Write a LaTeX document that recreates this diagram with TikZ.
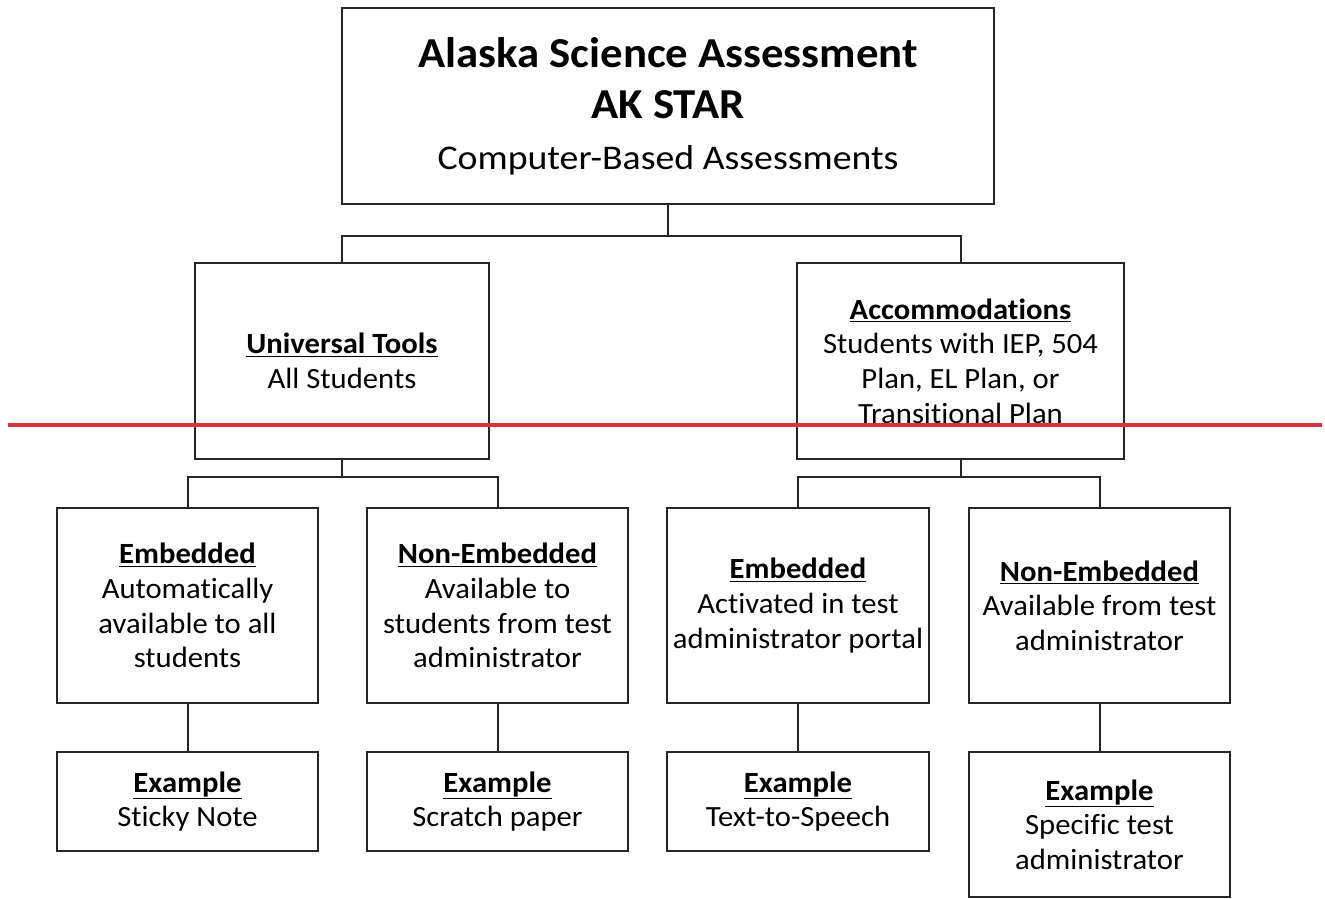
\documentclass[tikz,border=0pt]{standalone}
\usepackage{fontspec}
\setmainfont{Carlito}[FakeStretch=1.045, Ligatures=NoCommon]
\newfontfamily\titlefont{Carlito}[FakeStretch=1.05, Ligatures=NoCommon]
\newfontfamily\subfont{Carlito}[FakeStretch=1.09, Ligatures=NoCommon]
\definecolor{redline}{RGB}{212,52,60}
\tikzset{
  box/.style={draw=black!85, line width=1.3pt, align=center, inner sep=0pt,
    font=\fontsize{22}{26}\selectfont},
  conn/.style={draw=black!85, line width=1.5pt},
  ttl/.style={inner sep=0pt, font=\titlefont\fontsize{32}{36}\selectfont\bfseries},
  sub/.style={inner sep=0pt, font=\subfont\fontsize{26}{30}\selectfont},
}
\newcommand{\hd}[1]{\underline{\textbf{#1}}}
\begin{document}
\begin{tikzpicture}[x=0.75pt,y=-0.75pt]
\useasboundingbox (0,0) rectangle (1325,899);
% level 1
\node[box, minimum width=489pt, minimum height=147pt] (top) at (668,106) {};
\node[ttl] (t1) at (668,53) {Alaska Science Assessment};
\node[ttl] (t2) at (668,105) {AK STAR};
\node[sub] (t3) at (668,160) {Computer-Based Assessments};
% level 2
\node[box, minimum width=220.5pt, minimum height=147pt] (ut) at (342,361)
  {\hd{Universal Tools}\\All Students};
\node[box, minimum width=245.25pt, minimum height=147pt] (acc) at (960.5,361)
  {\hd{Accommodations}\\Students with IEP, 504\\Plan, EL Plan, or\\Transitional Plan};
% level 3
\node[box, minimum width=195.75pt, minimum height=146.25pt] (e1) at (187.5,605.5)
  {\hd{Embedded}\\Automatically\\available to all\\students};
\node[box, minimum width=195.75pt, minimum height=146.25pt] (n1) at (497.5,605.5)
  {\hd{Non-Embedded}\\Available to\\students from test\\administrator};
\node[box, minimum width=196.5pt, minimum height=146.25pt] (e2) at (798,605.5)
  {\hd{Embedded}\\Activated in test\\administrator portal};
\node[box, minimum width=195.75pt, minimum height=146.25pt] (n2) at (1099.5,605.5)
  {\hd{Non-Embedded}\\Available from test\\administrator};
% level 4
\node[box, minimum width=195.75pt, minimum height=74.25pt] (x1) at (187.5,801.5)
  {\hd{Example}\\Sticky Note};
\node[box, minimum width=195.75pt, minimum height=74.25pt] (x2) at (497.5,801.5)
  {\hd{Example}\\Scratch paper};
\node[box, minimum width=196.5pt, minimum height=74.25pt] (x3) at (798,801.5)
  {\hd{Example}\\Text-to-Speech};
\node[box, minimum width=195.75pt, minimum height=108.75pt] (x4) at (1099.5,824.5)
  {\hd{Example}\\Specific test\\administrator};
% connectors
\coordinate (j1) at (668,236);
\coordinate (j2) at (342,477);
\coordinate (j3) at (961,477);
\draw[conn] (top.south) -- (top.south |- j1);
\draw[conn] (ut.north) -- (ut.north |- j1) -- (acc.north |- j1) -- (acc.north);
\draw[conn] (ut.south) -- (ut.south |- j2);
\draw[conn] (e1.north) -- (e1.north |- j2) -- (n1.north |- j2) -- (n1.north);
\draw[conn] (acc.south) -- (acc.south |- j3);
\draw[conn] (e2.north) -- (e2.north |- j3) -- (n2.north |- j3) -- (n2.north);
\draw[conn] (e1.south) -- (x1.north);
\draw[conn] (n1.south) -- (x2.north);
\draw[conn] (e2.south) -- (x3.north);
\draw[conn] (n2.south) -- (x4.north);
% red line
\coordinate (rl) at (8,425);
\coordinate (rr) at (1322,425);
\draw[redline, line width=2.4pt] (rl) -- (rr);
\end{tikzpicture}
\end{document}
